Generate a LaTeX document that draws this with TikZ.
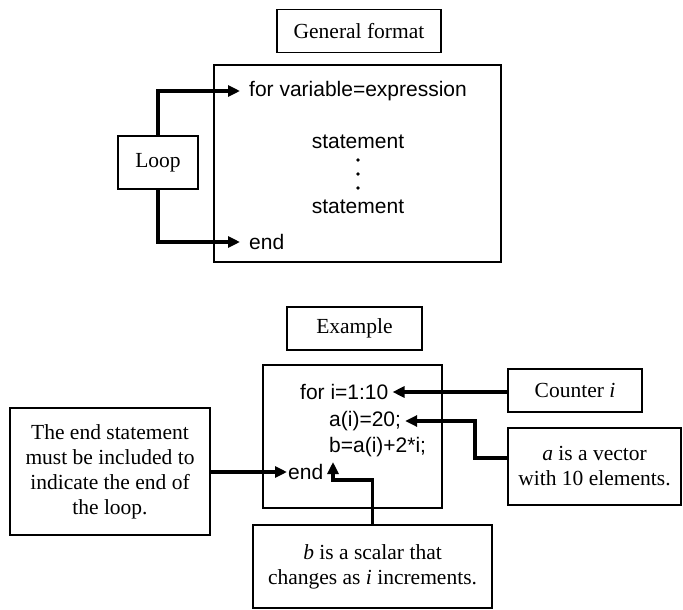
\documentclass[tikz,border=0pt]{standalone}
\usepackage{fontspec}
\setmainfont{Liberation Serif}
\newfontfamily\codefont{Liberation Sans}
\usetikzlibrary{arrows.meta,positioning}
\tikzset{
  box/.style={draw,line width=1.3pt,fill=white,align=center,inner sep=0pt},
  code/.style={font=\codefont\fontsize{21}{25}\selectfont,inner ysep=2pt,inner xsep=4pt},
  pointer/.style={line width=3.2pt,-{Triangle[length=12pt,width=11pt]}},
}
\begin{document}
\begin{tikzpicture}[x=1pt,y=-1pt,font=\fontsize{21.5}{25}\selectfont]
  \useasboundingbox (0,0) rectangle (683,610);
  \node[box,minimum width=164,minimum height=43] (genfmt) at (359,31) {General format};
  \node[box,minimum width=287,minimum height=197] (loopbody) at (357.5,163.5) {};
  \node[code,anchor=west,inner xsep=9pt] (forhead) at (240,91) {for variable=expression};
  \node[code] (stmtA) at (358,142) {statement};
  \foreach \y in {160,174,188} \fill (358,\y) circle (1.8);
  \node[code] (stmtB) at (358,207) {statement};
  \node[code,anchor=west,inner xsep=9pt] (endA) at (240,242) {end};
  \node[box,minimum width=80,minimum height=53] (loop) at (158,162.5) {Loop};
  \draw[pointer] (loop.north) |- (forhead.west);
  \draw[pointer] (loop.south) |- (endA.west);

  \node[box,minimum width=135,minimum height=43] (example) at (354.5,328.5) {Example};
  \node[box,minimum width=179,minimum height=143] (codebox) at (352.5,436.5) {};
  \node[code,anchor=west] (forI) at (296,392) {for i=1:10};
  \node[code,anchor=west] (aLine) at (325,421) {a(i)=20;};
  \node[code,anchor=west] (bLine) at (325,447) {b=a(i)+2*i;};
  \node[code,anchor=west,inner xsep=1pt] (endB) at (287,472) {end};
  \node[box,minimum width=134,minimum height=43] (counter) at (575,390.5) {Counter \textit{i}};
  \node[box,minimum width=173,minimum height=77] (avec) at (594.5,466.5) {\textit{a} is a vector\\with 10 elements.};
  \node[box,minimum width=200,minimum height=127] (endnote) at (110,471.5) {The end statement\\must be included to\\indicate the end of\\the loop.};
  \node[box,minimum width=239,minimum height=83] (bbox) at (372.5,566.5) {\textit{b} is a scalar that\\changes as \textit{i} increments.};
  \coordinate (abend) at (475,458);
  \coordinate (bturn) at (333,480);
  \coordinate (btip) at (333,462);
  \draw[pointer] (counter.west |- forI.east) -- (forI.east);
  \draw[pointer] (avec.west |- abend) -- (abend) |- (aLine.east);
  \draw[pointer] (endnote.east |- endB.west) -- (endB.west);
  \draw[pointer] (bbox.north) |- (bturn) -- (btip);
\end{tikzpicture}
\end{document}
